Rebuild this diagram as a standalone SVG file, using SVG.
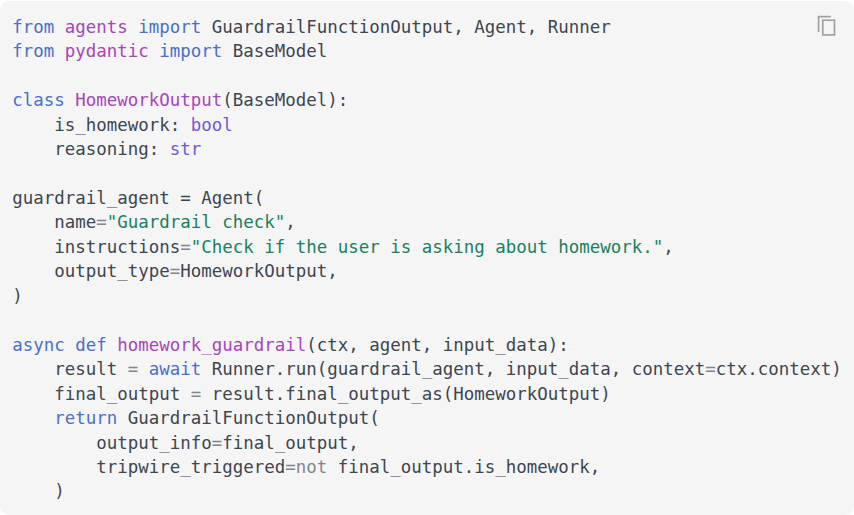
<svg xmlns="http://www.w3.org/2000/svg" width="854" height="515" viewBox="0 0 854 515">
<style>
text{font-family:"DejaVu Sans Mono","Liberation Mono",monospace;font-size:17.44px;fill:#3d4650;white-space:pre}
.k{fill:#4a6fc9}.n{fill:#a745b8}.b{fill:#7358d8}.s{fill:#1a7f60}.o{fill:#80868b}
</style>
<rect x="0" y="1" width="854" height="514" rx="9" fill="#f5f5f5"/>
<g id="copy-icon" fill="none" stroke="#a2a2a2" stroke-width="1.7">
<path d="M831 16.600H818.600V32"/>
<rect x="822.800" y="20.200" width="11.700" height="14.700"/>
</g>
<g id="code" xml:space="preserve">
<text x="12.300" y="32.700"><tspan class="k">from</tspan> <tspan class="n">agents</tspan> <tspan class="k">import</tspan> GuardrailFunctionOutput, Agent, Runner</text>
<text x="12.300" y="57.200"><tspan class="k">from</tspan> <tspan class="n">pydantic</tspan> <tspan class="k">import</tspan> BaseModel</text>
<text x="12.300" y="106.100"><tspan class="k">class</tspan> <tspan class="n">HomeworkOutput</tspan>(BaseModel):</text>
<text x="12.300" y="130.500">    is_homework: <tspan class="b">bool</tspan></text>
<text x="12.300" y="155">    reasoning: <tspan class="b">str</tspan></text>
<text x="12.300" y="203.900">guardrail_agent = Agent(</text>
<text x="12.300" y="228.300">    name<tspan class="o">=</tspan><tspan class="s">"Guardrail check"</tspan>,</text>
<text x="12.300" y="252.800">    instructions<tspan class="o">=</tspan><tspan class="s">"Check if the user is asking about homework."</tspan>,</text>
<text x="12.300" y="277.200">    output_type<tspan class="o">=</tspan>HomeworkOutput,</text>
<text x="12.300" y="301.700">)</text>
<text x="12.300" y="350.700"><tspan class="k">async</tspan> <tspan class="k">def</tspan> <tspan class="n">homework_guardrail</tspan>(ctx, agent, input_data):</text>
<text x="12.300" y="375.100">    result <tspan class="o">=</tspan> <tspan class="k">await</tspan> Runner.run(guardrail_agent, input_data, context<tspan class="o">=</tspan>ctx.context)</text>
<text x="12.300" y="399.600">    final_output <tspan class="o">=</tspan> result.final_output_as(HomeworkOutput)</text>
<text x="12.300" y="424">    <tspan class="k">return</tspan> GuardrailFunctionOutput(</text>
<text x="12.300" y="448.500">        output_info<tspan class="o">=</tspan>final_output,</text>
<text x="12.300" y="472.900">        tripwire_triggered<tspan class="o">=not</tspan> final_output.is_homework,</text>
<text x="12.300" y="497.400">    )</text>
</g>
</svg>
